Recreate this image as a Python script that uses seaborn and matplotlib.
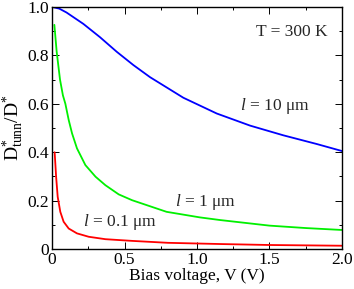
import numpy as np
import pandas as pd
import matplotlib
matplotlib.use('Agg')
import matplotlib.pyplot as plt
import seaborn as sns
from matplotlib.ticker import MultipleLocator, FixedLocator, FixedFormatter

# values
v_blue = [0.0, 0.05, 0.10, 0.216, 0.331, 0.446, 0.561, 0.676, 0.906, 1.136, 1.366, 1.595, 1.826, 2.0]
d_blue = [1.0, 0.993, 0.977, 0.93, 0.875, 0.815, 0.76, 0.71, 0.625, 0.56, 0.51, 0.47, 0.434, 0.405]

v_green = [0.016, 0.032, 0.055, 0.075, 0.092, 0.115, 0.138, 0.172, 0.23, 0.30, 0.368, 0.46,
           0.552, 0.79, 1.02, 1.16, 1.5, 1.75, 2.0]
d_green = [0.926, 0.815, 0.70, 0.635, 0.60, 0.533, 0.478, 0.416, 0.347, 0.299, 0.264, 0.226,
           0.202, 0.154, 0.131, 0.12, 0.097, 0.087, 0.079]

v_red = [0.018, 0.028, 0.039, 0.057, 0.08, 0.115, 0.172, 0.253, 0.368, 0.552, 0.8, 1.16, 1.5, 2.0]
d_red = [0.40, 0.30, 0.216, 0.154, 0.113, 0.085, 0.065, 0.051, 0.041, 0.034, 0.026, 0.021, 0.017, 0.014]

curves = ['10', '1', '0.1']
colors = {'10': '#0000ff', '1': '#00f000', '0.1': '#ff0000'}

x_ticks = [0, 0.5, 1.0, 1.5, 2.0]
x_ticklabels = ['0', '0.5', '1.0', '1.5', '2.0']
y_ticks = [0, 0.2, 0.4, 0.6, 0.8, 1.0]
y_ticklabels = ['0', '0.2', '0.4', '0.6', '0.8', '1.0']

df = pd.concat([
    pd.DataFrame({'V': v_blue, 'D': d_blue, 'l': '10'}),
    pd.DataFrame({'V': v_green, 'D': d_green, 'l': '1'}),
    pd.DataFrame({'V': v_red, 'D': d_red, 'l': '0.1'}),
])

sns.set_theme(style='ticks')
plt.rcParams['font.family'] = ['Liberation Serif', 'DejaVu Serif']
plt.rcParams['mathtext.fontset'] = 'custom'
plt.rcParams['mathtext.rm'] = 'Liberation Serif'
plt.rcParams['mathtext.it'] = 'Liberation Serif:italic'
plt.rcParams['mathtext.bf'] = 'Liberation Serif:bold'

fs = 12.5

fig = plt.figure(figsize=(3.54, 2.89), dpi=100)
ax = fig.add_axes([0.147, 0.138, 0.819, 0.838])

sns.lineplot(data=df, x='V', y='D', hue='l', hue_order=curves, palette=colors,
             sort=False, estimator=None, linewidth=1.3, legend=False, ax=ax)

ax.set_xlim(0, 2.0)
ax.set_ylim(0, 1.0)
ax.xaxis.set_major_locator(FixedLocator(x_ticks))
ax.xaxis.set_major_formatter(FixedFormatter(x_ticklabels))
ax.yaxis.set_major_locator(FixedLocator(y_ticks))
ax.yaxis.set_major_formatter(FixedFormatter(y_ticklabels))
ax.xaxis.set_minor_locator(MultipleLocator(0.25))
ax.yaxis.set_minor_locator(MultipleLocator(0.1))
ax.tick_params(which='both', direction='in', top=True, right=True, labelsize=fs,
               width=0.7, color='black', labelcolor='black', pad=2)
ax.tick_params(which='major', length=5)
ax.tick_params(which='minor', length=2.5)
for s in ax.spines.values():
    s.set_linewidth(1.0)
    s.set_color('black')

ax.set_xlabel('Bias voltage, V (V)', fontsize=fs, labelpad=0, color='black')
ax.set_ylabel(r'D$^{*}_{\mathrm{tunn}}$/D$^{*}$', fontsize=14, labelpad=1, color='black')

ax.text(1.90, 0.897, 'T = 300 K', fontsize=fs, ha='right', va='center')
ax.text(1.30, 0.59, r'$l$ = 10 μm', fontsize=fs, ha='left', va='center')
ax.text(0.85, 0.195, r'$l$ = 1 μm', fontsize=fs, ha='left', va='center')
ax.text(0.214, 0.113, r'$l$ = 0.1 μm', fontsize=fs, ha='left', va='center')

fig.savefig('out.png', dpi=100)
